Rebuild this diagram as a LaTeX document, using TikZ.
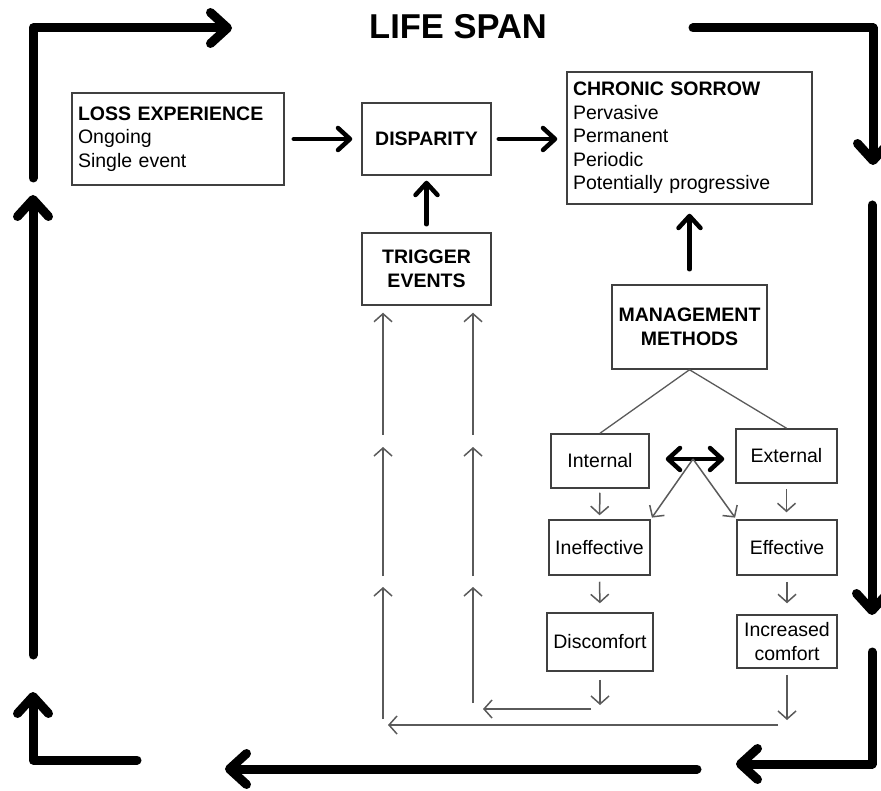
\documentclass[tikz,border=0pt]{standalone}
\usepackage{fontspec}
\setmainfont{Liberation Sans}
\usetikzlibrary{arrows.meta}
\definecolor{boxgray}{HTML}{404040}
\definecolor{linegray}{HTML}{5A5A5A}
\newcommand\mfs{\fontsize{19.5}{23.5}\selectfont}
\begin{document}
\begin{tikzpicture}[x=1pt,y=-1pt,
  box/.style={draw=boxgray, line width=1.5pt, inner sep=0pt, font=\mfs, align=center},
  big/.style={line width=9pt, line cap=round, line join=round, -{Straight Barb[length=17pt,width=31pt,round]}},
  mid/.style={line width=4.5pt, line cap=round, -{Straight Barb[length=12pt,width=22pt,round]}},
  dbl/.style={line width=4.5pt, line cap=round, {Straight Barb[length=12pt,width=22pt,round]}-{Straight Barb[length=12pt,width=22pt,round]}},
  thinarr/.style={draw=linegray, line width=1.5pt, -{Straight Barb[length=8pt,width=18pt]}},
  thinline/.style={draw=linegray, line width=1.3pt}]
\useasboundingbox (0,0) rectangle (881,791);

% title
\node (title) at (458,27) {\fontsize{34.5}{40}\selectfont\bfseries LIFE SPAN};

% boxes
\node[box, minimum width=212pt, minimum height=92pt, text width=200pt, align=left] (loss) at (178,139)
  {\textbf{LOSS EXPERIENCE}\\Ongoing\\Single event};
\node[box, minimum width=129pt, minimum height=72pt] (disp) at (426.5,139) {\textbf{DISPARITY}};
\node[box, minimum width=129pt, minimum height=72pt] (trig) at (426.5,269) {\textbf{TRIGGER}\\\textbf{EVENTS}};
\node[box, minimum width=245pt, minimum height=132pt, text width=233pt, align=left] (chron) at (689.5,138)
  {\textbf{CHRONIC SORROW}\\Pervasive\\Permanent\\Periodic\\Potentially progressive};
\node[box, minimum width=155pt, minimum height=84pt] (mgmt) at (689.5,327) {\textbf{MANAGEMENT}\\\textbf{METHODS}};
\node[box, minimum width=98pt, minimum height=54pt] (int) at (600,461) {Internal};
\node[box, minimum width=101pt, minimum height=54pt] (ext) at (786.5,456) {External};
\node[box, minimum width=101pt, minimum height=55pt] (ineff) at (599.5,547.5) {Ineffective};
\node[box, minimum width=100pt, minimum height=55pt] (eff) at (787,547.5) {Effective};
\node[box, minimum width=106pt, minimum height=58pt] (disc) at (600,642) {Discomfort};
\node[box, minimum width=100pt, minimum height=53pt] (incr) at (787,641.5) {Increased\\comfort};

% medium arrows
\draw[mid, shorten <=9pt, shorten >=9pt] (loss.east) -- (disp.west);
\draw[mid, shorten <=7pt, shorten >=9pt] (disp.east) -- (chron.west |- disp.east);
\draw[mid, shorten <=8pt, shorten >=5pt] (trig.north) -- (disp.south);
\draw[mid, shorten <=15pt, shorten >=9pt] (mgmt.north) -- (chron.south);

% management branches
\draw[thinline] (mgmt.south) -- (int.north);
\draw[thinline] (mgmt.south) -- (ext.north);

% double arrow and diagonals
\coordinate (hub) at (693,459);
\draw[dbl, shorten <=16pt, shorten >=11pt] (int.east |- hub) -- (ext.west |- hub);
\draw[thinarr, shorten >=2pt] (hub) -- (ineff.north east);
\draw[thinarr, shorten >=2pt] (hub) -- (eff.north west);

% vertical small arrows
\draw[thinarr, shorten <=4pt, shorten >=4pt] (int.south) -- (ineff.north);
\draw[thinarr, shorten <=5pt, shorten >=7pt] (ext.south) -- (ext.south |- eff.north);
\draw[thinarr, shorten <=6pt, shorten >=9pt] (ineff.south) -- (disc.north);
\draw[thinarr, shorten <=6pt, shorten >=11pt] (eff.south) -- (eff.south |- incr.north);

% feedback: discomfort
\coordinate (d1) at (600,705);
\coordinate (h1s) at (591,709);
\coordinate (h1e) at (483,709);
\draw[thinarr, shorten <=8pt] (disc.south) -- (d1);
\draw[thinarr] (h1s) -- (h1e);
\coordinate (r1) at (473,703); \coordinate (r2) at (473,587);
\coordinate (r3) at (473,576); \coordinate (r4) at (473,447);
\coordinate (r5) at (473,435);
\draw[thinarr] (r1) -- (r2);
\draw[thinarr] (r3) -- (r4);
\draw[thinarr, shorten >=7pt] (r5) -- (r5 |- trig.south);

% feedback: increased comfort
\coordinate (i1) at (787,720);
\coordinate (h2s) at (778,725);
\coordinate (h2e) at (388,725);
\draw[thinarr, shorten <=6pt] (incr.south) -- (i1);
\draw[thinarr] (h2s) -- (h2e);
\coordinate (l1) at (383,719); \coordinate (l2) at (383,587);
\coordinate (l3) at (383,576); \coordinate (l4) at (383,447);
\coordinate (l5) at (383,435);
\draw[thinarr] (l1) -- (l2);
\draw[thinarr] (l3) -- (l4);
\draw[thinarr, shorten >=7pt] (l5) -- (l5 |- trig.south);

% life span frame arrows
\coordinate (tl1) at (33,178); \coordinate (tl2) at (232,28);
\coordinate (tr1) at (693,28); \coordinate (tr2) at (873,165);
\coordinate (ra) at (872,205); \coordinate (rb) at (872,615);
\coordinate (br1) at (872,652); \coordinate (br2) at (736,764);
\coordinate (ba) at (697,769); \coordinate (bb) at (225,769);
\coordinate (bl1) at (137,760); \coordinate (bl2) at (33,692);
\coordinate (la) at (33,655); \coordinate (lb) at (33,195);
\draw[big] (tl1) |- (tl2);
\draw[big] (tr1) -| (tr2);
\draw[big] (ra) -- (rb);
\draw[big] (br1) |- (br2);
\draw[big] (ba) -- (bb);
\draw[big] (bl1) -| (bl2);
\draw[big] (la) -- (lb);
\end{tikzpicture}
\end{document}
